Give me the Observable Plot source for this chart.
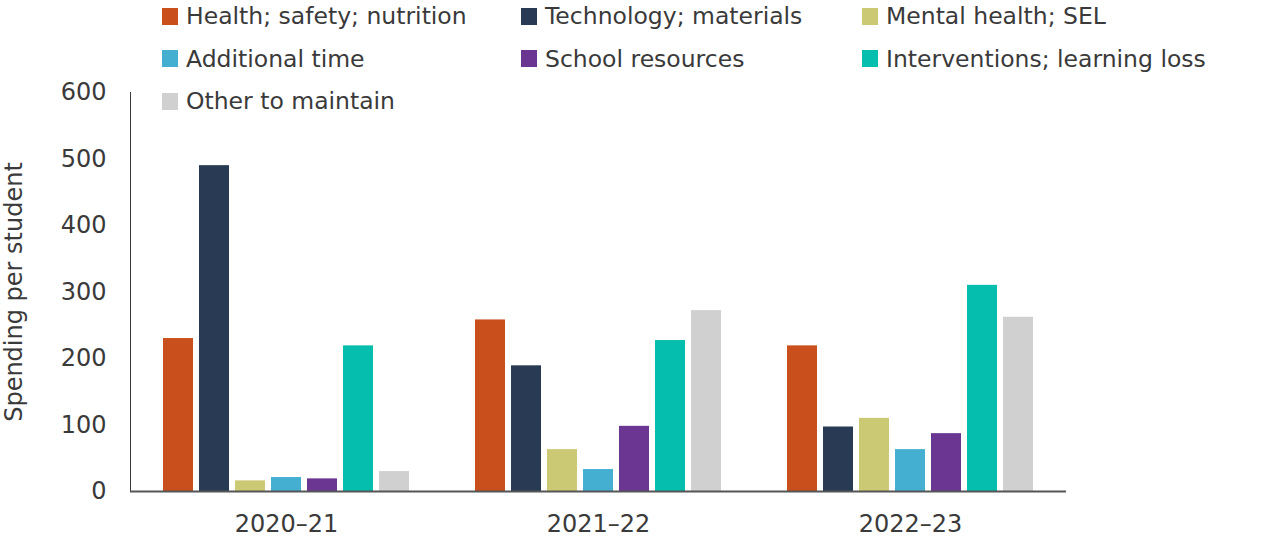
<!DOCTYPE html>
<html>
<head>
<meta charset="utf-8">
<script src="https://cdn.jsdelivr.net/npm/d3@7"></script>
<script src="https://cdn.jsdelivr.net/npm/@observablehq/plot@0.6"></script>
<style>
  html, body { margin: 0; padding: 0; background: #fff; }
  #wrap { position: relative; width: 1280px; height: 544px; font-family: "DejaVu Sans", sans-serif; color: #3a3a3a; }
  #legend { position: absolute; left: 162px; top: 4px; display: grid; grid-template-columns: 359px 341px auto; grid-auto-rows: 42.5px; z-index: 2; }
  .item { display: flex; align-items: center; height: 24px; font-size: 23.5px; white-space: nowrap; }
  .sw { width: 16px; height: 17px; margin-right: 8px; flex: none; }
  #chart svg { display: block; }
</style>
</head>
<body>
<div id="wrap">
  <div id="legend"></div>
  <div id="chart"></div>
</div>
<script>
// School years on the horizontal axis
const years = ["2020–21", "2021–22", "2022–23"];

// Spending categories, in legend and bar order
const categories = [
  "Health; safety; nutrition",
  "Technology; materials",
  "Mental health; SEL",
  "Additional time",
  "School resources",
  "Interventions; learning loss",
  "Other to maintain"
];

const colors = ["#c94f1c", "#293a55", "#ccc975", "#44afd1", "#6a3692", "#05bead", "#d0d0d0"];

// Spending per student, one list per year, in category order
const spend2020 = [230, 490, 16, 21, 19, 219, 30];
const spend2021 = [258, 189, 63, 33, 98, 227, 272];
const spend2022 = [219, 97, 110, 63, 87, 310, 262];

const yTicks = [0, 100, 200, 300, 400, 500, 600];

const rows = [spend2020, spend2021, spend2022].flatMap((vals, i) =>
  vals.map((v, j) => ({year: years[i], category: categories[j], value: v}))
);

// Legend: three columns, filled row by row
const legend = document.getElementById("legend");
categories.forEach((c, i) => {
  const item = document.createElement("div");
  item.className = "item";
  const sw = document.createElement("span");
  sw.className = "sw";
  sw.style.background = colors[i];
  item.appendChild(sw);
  item.appendChild(document.createTextNode(c));
  legend.appendChild(item);
});

const chart = Plot.plot({
  width: 1280,
  height: 544,
  marginLeft: 130,
  marginRight: 214,
  marginTop: 92,
  marginBottom: 53,
  style: {fontFamily: "DejaVu Sans, sans-serif", fontSize: "24px", color: "#3a3a3a", background: "transparent"},
  fx: {domain: years, padding: 0, label: null, tickSize: 0, tickPadding: 23},
  x: {domain: categories, paddingInner: 0.178, paddingOuter: 0.863, axis: null},
  y: {
    domain: [0, 600],
    ticks: yTicks,
    tickSize: 0,
    tickPadding: 24,
    line: true,
    label: "Spending per student",
    labelArrow: false,
    labelAnchor: "center",
    labelOffset: 126
  },
  color: {domain: categories, range: colors},
  marks: [
    Plot.barY(rows, {fx: "year", x: "category", y: "value", fill: "category"}),
    Plot.ruleY([0], {stroke: "#555", strokeWidth: 2})
  ]
});
document.getElementById("chart").appendChild(chart);
</script>
</body>
</html>
